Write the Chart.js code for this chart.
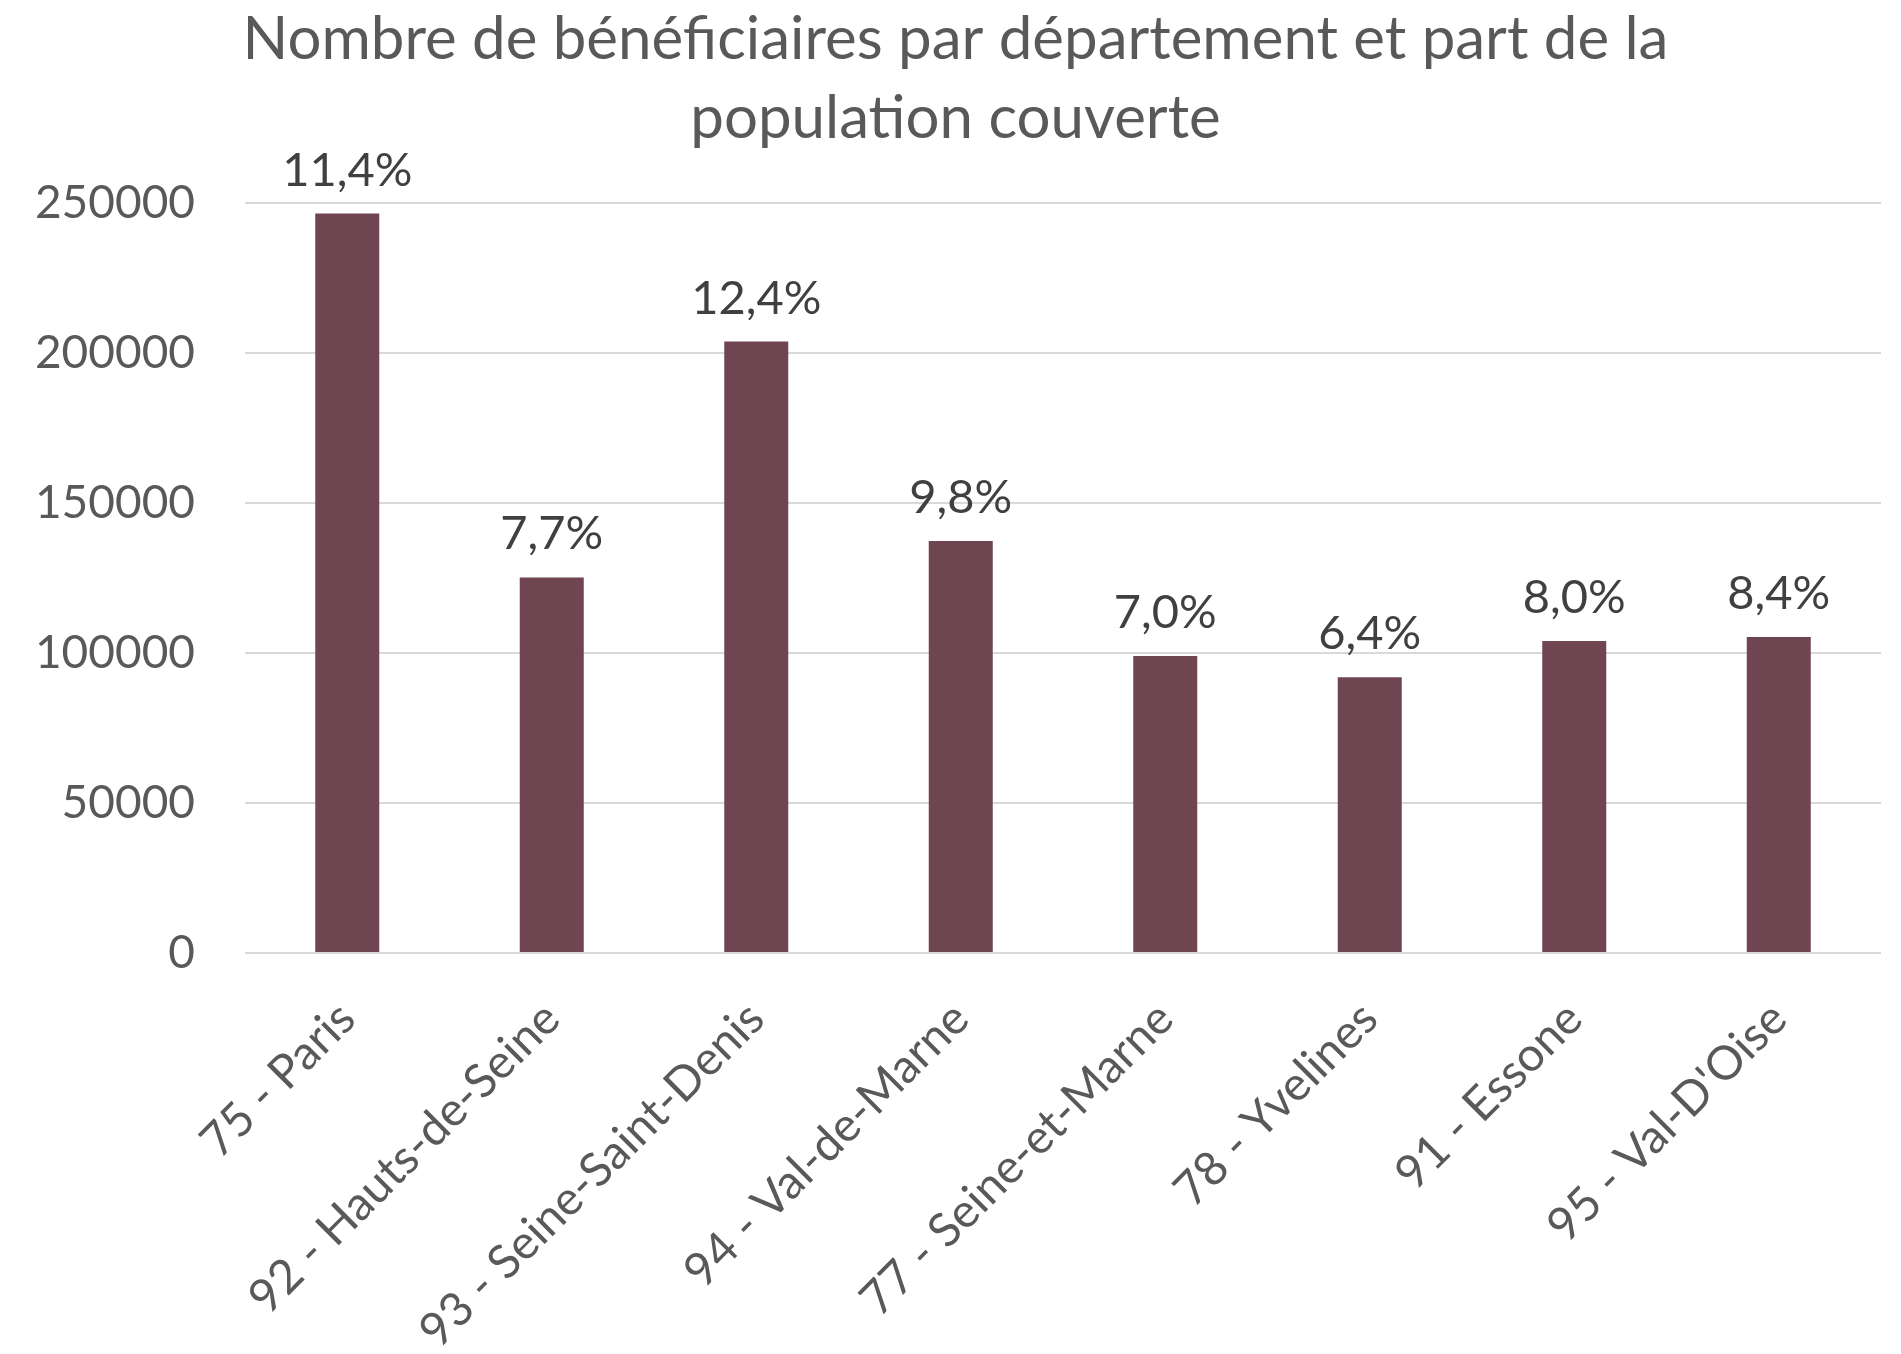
<!DOCTYPE html>
<html lang="fr">
<head>
    <meta charset="utf-8">
    <title>Bénéficiaires par département</title>
    <script src="https://cdn.jsdelivr.net/npm/chart.js@4.4.1/dist/chart.umd.min.js"></script>
    <style>
        body { margin: 0; background: #fff; }
        canvas { display: block; }
    </style>
</head>
<body>
    <canvas id="chart" width="1901" height="1354"></canvas>
    <script>
        const departements = ['75 - Paris', '92 - Hauts-de-Seine', '93 - Seine-Saint-Denis', '94 - Val-de-Marne',
                              '77 - Seine-et-Marne', '78 - Yvelines', '91 - Essone', "95 - Val-D'Oise"];
        const beneficiaires = [246500, 125200, 203800, 137300, 99000, 91900, 104000, 105300];
        const partPopulation = [11.4, 7.7, 12.4, 9.8, 7.0, 6.4, 8.0, 8.4];
        const yTicks = [0, 50000, 100000, 150000, 200000, 250000];

        const police = 'Lato';

        // percentages above the bars
        const etiquettes = {
            id: 'etiquettes',
            afterDatasetsDraw(chart) {
                const ctx = chart.ctx;
                const meta = chart.getDatasetMeta(0);
                ctx.save();
                ctx.font = '47px ' + police;
                ctx.fillStyle = '#404040';
                ctx.textAlign = 'center';
                ctx.textBaseline = 'alphabetic';
                meta.data.forEach(function (bar, i) {
                    const txt = partPopulation[i].toFixed(1).replace('.', ',') + '%';
                    ctx.fillText(txt, bar.x, bar.y - 28);
                });
                ctx.restore();
            }
        };

        const ctx = document.getElementById('chart').getContext('2d');
        new Chart(ctx, {
            type: 'bar',
            data: {
                labels: departements,
                datasets: [{
                    data: beneficiaires,
                    backgroundColor: '#6F4551',
                    categoryPercentage: 1,
                    barPercentage: 0.313
                }]
            },
            options: {
                responsive: false,
                animation: false,
                devicePixelRatio: 1,
                layout: { padding: { left: 30, right: 20, top: 0, bottom: 0 } },
                plugins: {
                    legend: { display: false },
                    tooltip: { enabled: false },
                    title: {
                        display: true,
                        text: ['Nombre de bénéficiaires par département et part de la', 'population couverte'],
                        color: '#595959',
                        font: { family: police, size: 60, weight: 'normal', lineHeight: '79px' },
                        padding: { top: 0, bottom: 45 }
                    }
                },
                scales: {
                    x: {
                        grid: { display: false },
                        border: { display: false },
                        ticks: {
                            color: '#595959',
                            font: { family: police, size: 47 },
                            minRotation: 45,
                            maxRotation: 45,
                            padding: 30
                        },
                        afterFit(scale) { scale.height = 401; }
                    },
                    y: {
                        min: 0,
                        max: 250000,
                        afterBuildTicks(scale) {
                            scale.ticks = yTicks.map(v => ({ value: v }));
                        },
                        grid: { color: '#D9D9D9', lineWidth: 2, drawTicks: false },
                        border: { display: false },
                        ticks: {
                            color: '#595959',
                            font: { family: police, size: 46 },
                            padding: 50,
                            callback: v => String(v)
                        },
                        afterFit(scale) { scale.width = 215; }
                    }
                }
            },
            plugins: [etiquettes]
        });
    </script>
</body>
</html>
